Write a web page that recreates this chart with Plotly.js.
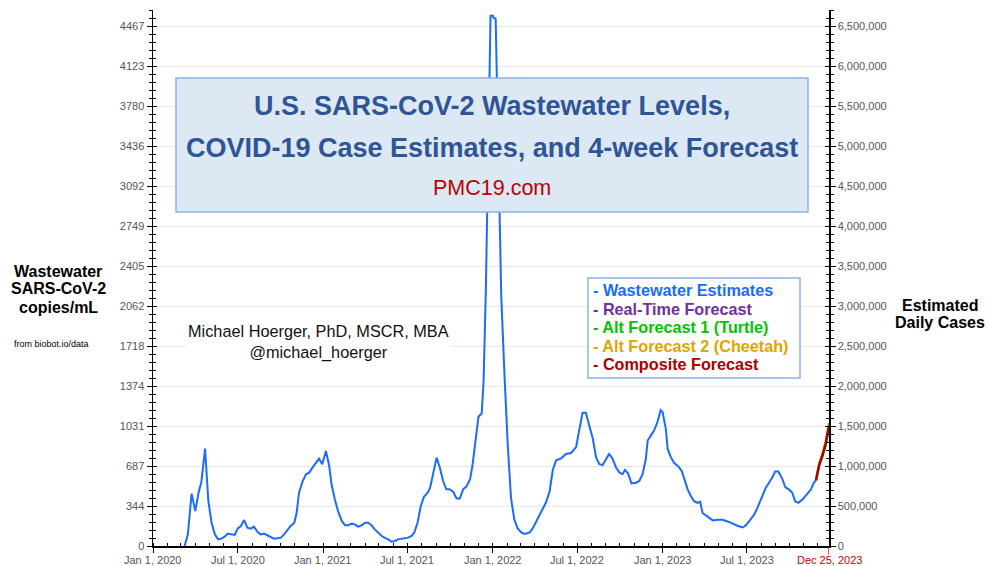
<!DOCTYPE html>
<html>
<head>
<meta charset="utf-8">
<script src="https://cdn.plot.ly/plotly-3.0.1.min.js"></script>
<style>html,body{margin:0;padding:0;background:#fff;}#chart{width:988px;height:566px;}</style>
</head>
<body>
<div id="chart"></div>
<script>
// ---------------- DATA ----------------
const wwDates = [
'2020-03-09','2020-03-16','2020-03-24','2020-04-01','2020-04-08','2020-04-14','2020-04-22','2020-04-29',
'2020-05-06','2020-05-13','2020-05-20','2020-05-27','2020-06-03','2020-06-10','2020-06-17','2020-06-25',
'2020-07-01','2020-07-08','2020-07-15','2020-07-22','2020-07-29','2020-08-05','2020-08-13','2020-08-20',
'2020-08-27','2020-09-03','2020-09-10','2020-09-17','2020-09-24','2020-10-02','2020-10-09','2020-10-16',
'2020-10-23','2020-10-31','2020-11-05','2020-11-10','2020-11-18','2020-11-25','2020-12-02','2020-12-09',
'2020-12-16','2020-12-23','2020-12-30',
'2021-01-07','2021-01-14','2021-01-19','2021-01-26','2021-02-02','2021-02-10','2021-02-17','2021-02-24',
'2021-03-03','2021-03-10','2021-03-17','2021-03-25','2021-04-01','2021-04-08','2021-04-15','2021-04-22',
'2021-04-29','2021-05-07','2021-05-14','2021-05-21','2021-05-28','2021-06-04','2021-06-11','2021-06-19',
'2021-06-26','2021-07-03','2021-07-10','2021-07-16','2021-07-23','2021-07-30','2021-08-06','2021-08-14',
'2021-08-19','2021-08-26','2021-09-02','2021-09-09','2021-09-16','2021-09-23','2021-09-30','2021-10-08',
'2021-10-15','2021-10-22','2021-10-29','2021-11-05','2021-11-13','2021-11-18','2021-11-23','2021-12-01',
'2021-12-08','2021-12-12','2021-12-17','2021-12-23','2021-12-27','2022-01-01','2022-01-03','2022-01-07',
'2022-01-19','2022-01-26','2022-02-02','2022-02-09','2022-02-16','2022-02-23','2022-03-03','2022-03-10',
'2022-03-21','2022-03-28','2022-04-04','2022-04-11','2022-04-18','2022-04-25','2022-05-03','2022-05-10',
'2022-05-17','2022-05-28','2022-06-07','2022-06-18','2022-06-29','2022-07-06','2022-07-13','2022-07-20',
'2022-07-27','2022-08-04','2022-08-11','2022-08-18','2022-08-25','2022-09-01','2022-09-08','2022-09-15',
'2022-09-23','2022-09-30','2022-10-07','2022-10-12','2022-10-19','2022-10-26','2022-11-05','2022-11-12',
'2022-11-19','2022-11-26','2022-11-30','2022-12-07','2022-12-14','2022-12-21','2022-12-28',
'2023-01-01','2023-01-08','2023-01-12','2023-01-19','2023-01-26','2023-02-04','2023-02-11','2023-02-17',
'2023-02-24','2023-03-03','2023-03-10','2023-03-17','2023-03-23','2023-03-28','2023-04-08','2023-04-19',
'2023-04-30','2023-05-10','2023-05-21','2023-06-01','2023-06-11','2023-06-22','2023-06-29','2023-07-06',
'2023-07-17','2023-07-24','2023-08-01','2023-08-11','2023-08-18','2023-08-25','2023-08-31','2023-09-07',
'2023-09-16','2023-09-22','2023-09-30','2023-10-07','2023-10-13','2023-10-20','2023-10-29','2023-11-09',
'2023-11-16','2023-11-22','2023-11-27'
];
const wwValues = [
0,100,450,300,458,550,836,387,
200,100,57,63,80,106,100,95,
149,172,223,158,149,166,120,100,
106,92,72,63,66,72,100,137,
172,200,286,458,558,616,630,673,
716,750,702,
816,687,530,401,300,215,178,178,
192,186,166,178,200,200,178,143,
115,86,69,57,37,43,57,63,
63,72,86,115,200,344,424,458,
501,644,759,673,558,487,487,464,
407,407,487,510,573,687,859,1110,
1140,1408,2213,3451,4555,4555,4535,4530,
2150,1470,870,416,229,153,116,104,
116,153,211,272,318,371,468,655,
736,753,790,799,850,1000,1145,1145,
1036,921,761,703,695,747,790,753,
675,631,617,654,622,538,544,559,
617,747,906,950,993,1065,1167,
1152,1007,834,761,712,683,646,573,
486,428,385,371,379,284,255,220,
226,226,211,188,174,159,177,211,
269,327,400,501,544,588,640,640,
573,505,485,457,385,371,400,450,
485,540,565
];

const fcDates = ['2023-11-27','2023-12-04','2023-12-11','2023-12-18','2023-12-25'];
const fcRealTime  = [565, 698, 778, 876, 1030];
const fcTurtle    = [565, 695, 772, 868, 1022];
const fcCheetah   = [565, 708, 798, 906, 1056];
const fcComposite = [565, 700, 780, 880, 1036];

const CASES_PER_COPY = 1455.15;           // right axis / left axis ratio
const caseTicks = [0,500000,1000000,1500000,2000000,2500000,3000000,3500000,4000000,4500000,5000000,5500000,6000000,6500000];
const copyTickText = ['0','344','687','1031','1374','1718','2062','2405','2749','3092','3436','3780','4123','4467'];
const xTickVals = ['2020-01-01','2020-07-01','2021-01-01','2021-07-01','2022-01-01','2022-07-01','2023-01-01','2023-07-01'];
const xTickText = ['Jan 1, 2020','Jul 1, 2020','Jan 1, 2021','Jul 1, 2021','Jan 1, 2022','Jul 1, 2022','Jan 1, 2023','Jul 1, 2023'];
const xStart = '2020-01-01', xEnd = '2023-12-25';
const xEndText = 'Dec 25, 2023';

const legendItems = ['- Wastewater Estimates','- Real-Time Forecast','- Alt Forecast 1 (Turtle)','- Alt Forecast 2 (Cheetah)','- Composite Forecast'];
const legendColors = ['#1a6cff','#7030a0','#00c400','#e0a400','#a80000'];

// ---------------- LAYOUT HELPERS ----------------
const W = 988, H = 566, L = 153, R = 829, T = 10, B = 546;
const px = x => (x - L) / (R - L);
const py = y => (B - y) / (B - T);
const CASE_MAX = 6700000;
const YMAX = CASE_MAX / CASES_PER_COPY;
const copyTickVals = caseTicks.map(c => c / CASES_PER_COPY);
const FONT = 'Arial, "Liberation Sans", sans-serif';

const traces = [
  {x: wwDates, y: wwValues, type: 'scatter', mode: 'lines', line: {color: '#1a6cff', width: 2}},
  {x: fcDates, y: fcRealTime, type: 'scatter', mode: 'lines', line: {color: '#7030a0', width: 2.2}},
  {x: fcDates, y: fcTurtle, type: 'scatter', mode: 'lines', line: {color: '#00c400', width: 2.2}},
  {x: fcDates, y: fcCheetah, type: 'scatter', mode: 'lines', line: {color: '#e0a400', width: 2.2}},
  {x: fcDates, y: fcComposite, type: 'scatter', mode: 'lines', line: {color: '#a80000', width: 2.4}},
  {x: [], y: [], yaxis: 'y2', type: 'scatter', mode: 'lines'},
  {x: [], y: [], yaxis: 'y3', type: 'scatter', mode: 'lines'},
  {x: [], y: [], yaxis: 'y4', type: 'scatter', mode: 'lines'}
];

const tickFont = {family: FONT, size: 11, color: '#555'};
const minorLeft = {tickmode: 'linear', tick0: 0, dtick: 100000 / CASES_PER_COPY, ticklen: 3, tickcolor: '#000', tickwidth: 1, showgrid: false};
const minorRight = {tickmode: 'linear', tick0: 0, dtick: 100000, ticklen: 3, tickcolor: '#000', tickwidth: 1, showgrid: false};

const annotations = [];
function ann(x, y, text, opts) {
  annotations.push(Object.assign({xref: 'paper', yref: 'paper', x: px(x), y: py(y), text: text, showarrow: false,
    xanchor: 'center', yanchor: 'middle', font: {family: FONT, size: 15, color: '#000'}}, opts || {}));
}
// title box text
ann(492, 106, '<b>U.S. SARS-CoV-2 Wastewater Levels,</b>', {font: {family: FONT, size: 27, color: '#2f5597'}});
ann(492, 148, '<b>COVID-19 Case Estimates, and 4-week Forecast</b>', {font: {family: FONT, size: 27, color: '#2f5597'}});
ann(492, 188, 'PMC19.com', {font: {family: FONT, size: 21.5, color: '#c00000'}});
// author
ann(318, 342, 'Michael Hoerger, PhD, MSCR, MBA<br>@michael_hoerger', {bgcolor: '#fff', borderpad: 1, font: {family: FONT, size: 16.3, color: '#111'}});
// legend lines
legendItems.forEach((t, i) => ann(591, 290 + i * 18.5, '<b>' + t + '</b>', {xanchor: 'left', font: {family: FONT, size: 16.2, color: legendColors[i]}}));
// axis titles
ann(58, 271, '<b>Wastewater</b>', {font: {family: FONT, size: 16, color: '#000'}});
ann(58, 289, '<b>SARS-CoV-2</b>', {font: {family: FONT, size: 16, color: '#000'}});
ann(58, 307, '<b>copies/mL</b>', {font: {family: FONT, size: 16, color: '#000'}});
ann(52, 344, 'from biobot.io/data', {font: {family: FONT, size: 9, color: '#000'}});
ann(940, 305, '<b>Estimated</b>', {font: {family: FONT, size: 16, color: '#000'}});
ann(940, 323, '<b>Daily Cases</b>', {font: {family: FONT, size: 16, color: '#000'}});
// x tick labels (placed as text so they fit the narrow bottom margin)
xTickVals.forEach((v, i) => annotations.push({xref: 'x', yref: 'paper', x: v, y: py(560), text: xTickText[i], showarrow: false,
  xanchor: 'center', yanchor: 'middle', font: tickFont}));
annotations.push({xref: 'x', yref: 'paper', x: xEnd, y: py(560), text: xEndText, showarrow: false,
  xanchor: 'center', yanchor: 'middle', font: {family: FONT, size: 11, color: '#cc0000'}});

const layout = {
  width: W, height: H,
  margin: {l: L, r: W - R, t: T, b: H - B, pad: 0},
  paper_bgcolor: '#fff', plot_bgcolor: '#fff',
  showlegend: false,
  font: {family: FONT},
  xaxis: {
    type: 'date', range: [xStart, xEnd], tickmode: 'array', tickvals: xTickVals, showticklabels: false,
    ticks: 'outside', ticklen: 5, tickcolor: '#000', tickwidth: 1,
    showline: true, linecolor: '#000', linewidth: 1.5, showgrid: false, zeroline: false,
    minor: {tickmode: 'linear', tick0: '2020-01-01', dtick: 'M1', ticks: 'inside', ticklen: 3, tickcolor: '#000', showgrid: false}
  },
  yaxis: {
    range: [0, YMAX], tickmode: 'array', tickvals: copyTickVals, ticktext: copyTickText,
    ticks: 'outside', ticklen: 5, tickcolor: '#000', tickwidth: 1, tickfont: tickFont,
    showline: true, linecolor: '#000', linewidth: 1.5, gridcolor: '#e9e9e9', gridwidth: 1, zeroline: false,
    minor: Object.assign({ticks: 'outside'}, minorLeft)
  },
  yaxis2: {
    overlaying: 'y', side: 'right', range: [0, CASE_MAX], tickmode: 'array', tickvals: caseTicks,
    tickformat: ',d', ticks: 'outside', ticklen: 5, tickcolor: '#000', tickwidth: 1, tickfont: tickFont,
    showline: true, linecolor: '#000', linewidth: 1.5, showgrid: false, zeroline: false,
    minor: Object.assign({ticks: 'outside'}, minorRight)
  },
  yaxis3: {
    overlaying: 'y', side: 'left', range: [0, YMAX], tickmode: 'array', tickvals: copyTickVals,
    ticks: 'inside', ticklen: 4, tickcolor: '#000', showticklabels: false, showline: false, showgrid: false, zeroline: false,
    minor: Object.assign({ticks: 'inside'}, minorLeft)
  },
  yaxis4: {
    overlaying: 'y', side: 'right', range: [0, CASE_MAX], tickmode: 'array', tickvals: caseTicks,
    ticks: 'inside', ticklen: 4, tickcolor: '#000', showticklabels: false, showline: false, showgrid: false, zeroline: false,
    minor: Object.assign({ticks: 'inside'}, minorRight)
  },
  shapes: [
    {type: 'rect', xref: 'paper', yref: 'paper', x0: px(176), x1: px(808), y0: py(212), y1: py(78),
     fillcolor: '#dde8f5', line: {color: '#8db3e2', width: 1.5}, layer: 'above'},
    {type: 'rect', xref: 'paper', yref: 'paper', x0: px(588), x1: px(800), y0: py(378), y1: py(278),
     fillcolor: '#ffffff', line: {color: '#8db3e2', width: 1.5}, layer: 'above'},
    {type: 'line', xref: 'x', yref: 'paper', x0: xEnd, x1: xEnd, y0: 0, y1: py(555),
     line: {color: '#cc0000', width: 1.2}, layer: 'above'}
  ],
  annotations: annotations
};

Plotly.newPlot('chart', traces, layout, {staticPlot: true, displayModeBar: false});
</script>
</body>
</html>
